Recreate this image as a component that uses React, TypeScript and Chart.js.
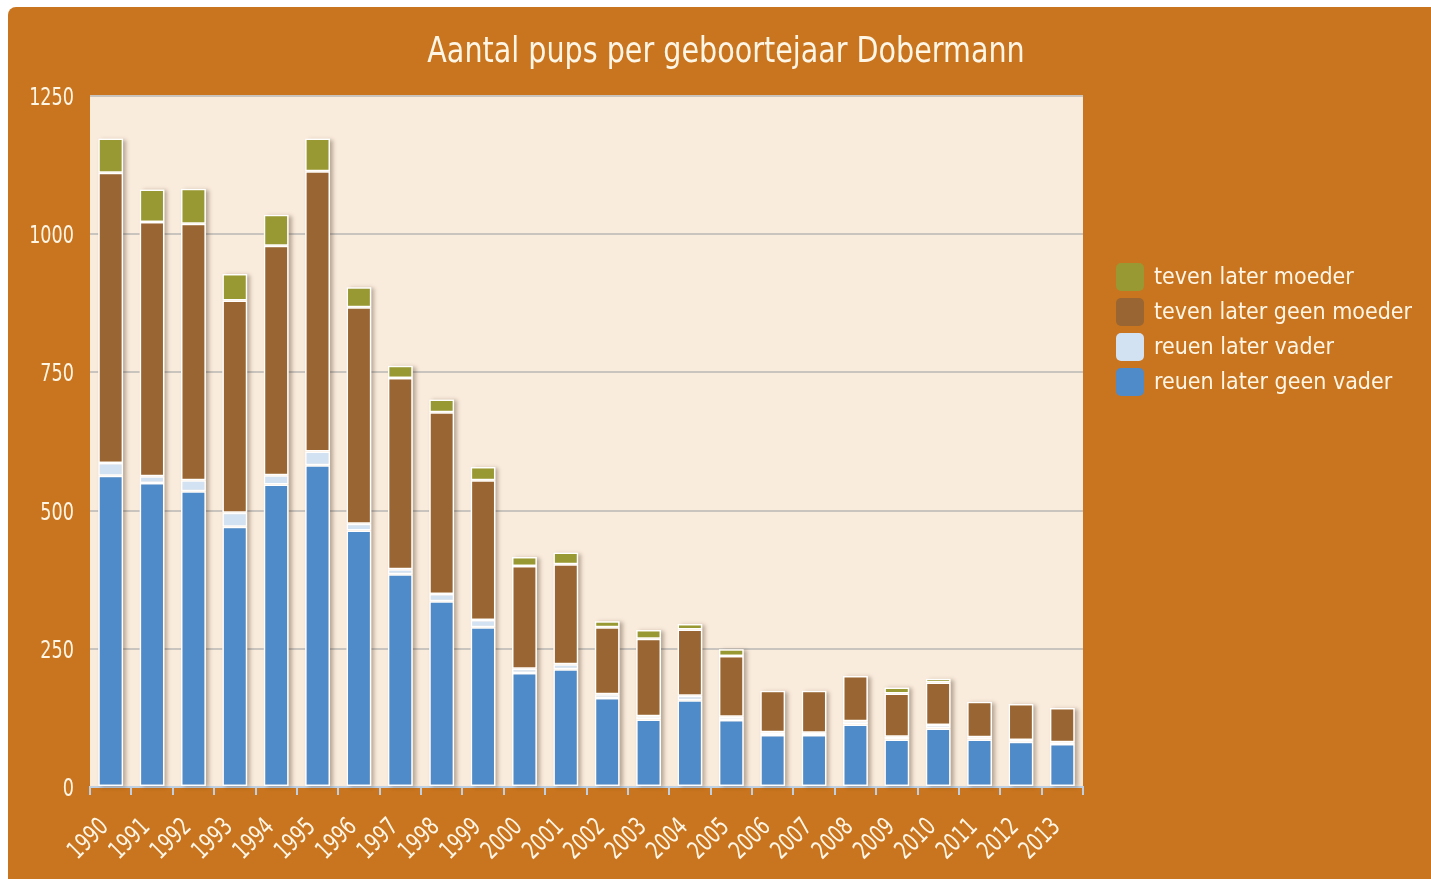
import React, { useEffect, useRef } from "react";
import { Chart, registerables } from "chart.js";

Chart.register(...registerables);

const years = ["1990","1991","1992","1993","1994","1995","1996","1997","1998","1999","2000","2001","2002","2003","2004","2005","2006","2007","2008","2009","2010","2011","2012","2013"];
const reuenGeenVader = [563,550,535,471,547,582,464,385,336,289,206,213,161,122,157,121,94,94,113,86,106,86,82,78];
const reuenVader = [23,12,20,25,17,25,12,9,13,13,8,9,7,6,8,6,5,4,6,5,6,4,3,3];
const tevenGeenMoeder = [525,460,464,384,415,507,392,346,329,253,186,181,121,140,120,110,75,76,82,78,77,64,65,62];
const tevenMoeder = [62,59,63,48,56,59,36,22,23,24,16,21,11,16,10,12,0,0,0,11,7,0,0,0];
const yTicks = [0, 250, 500, 750, 1000, 1250];
const titleText = "Aantal pups per geboortejaar Dobermann";

const FONT = "'DejaVu Sans Condensed', 'DejaVu Sans', sans-serif";
const TEXT = "#FFF6E6";
const ORANGE = "#C9741E";
const PLOT_BG = "#FAECDD";

const series = [
  { label: "reuen later geen vader", data: reuenGeenVader, color: "#4F8AC9" },
  { label: "reuen later vader", data: reuenVader, color: "#D3E2F2" },
  { label: "teven later geen moeder", data: tevenGeenMoeder, color: "#996633" },
  { label: "teven later moeder", data: tevenMoeder, color: "#999933" },
];

const bgPlugin = {
  id: "plotBg",
  beforeDraw(chart: any) {
    const { ctx, chartArea } = chart;
    ctx.save();
    ctx.fillStyle = PLOT_BG;
    ctx.fillRect(chartArea.left, chartArea.top, chartArea.right - chartArea.left, chartArea.bottom - chartArea.top);
    ctx.restore();
  },
};

const shadowPlugin = {
  id: "barShadow",
  beforeDatasetsDraw(chart: any) {
    const { ctx } = chart;
    const metas = chart.getSortedVisibleDatasetMetas();
    if (!metas.length) return;
    const n = metas[0].data.length;
    ctx.save();
    ctx.shadowColor = "rgba(60,40,20,0.35)";
    ctx.shadowOffsetX = 3;
    ctx.shadowOffsetY = 1;
    ctx.shadowBlur = 4;
    ctx.fillStyle = PLOT_BG;
    for (let i = 0; i < n; i++) {
      let top = Infinity, bottom = -Infinity, x = 0, w = 0;
      metas.forEach((m: any) => {
        const el = m.data[i];
        if (!el) return;
        const p = el.getProps(["x", "y", "base", "width"], true);
        top = Math.min(top, p.y, p.base);
        bottom = Math.max(bottom, p.y, p.base);
        x = p.x; w = p.width;
      });
      ctx.fillRect(x - w / 2, top, w, bottom - top);
    }
    ctx.restore();
  },
};

const textPlugin = {
  id: "texts",
  afterDraw(chart: any) {
    const { ctx } = chart;
    const xs = chart.scales.x;
    const ys = chart.scales.y;
    ctx.save();
    ctx.fillStyle = TEXT;

    // title
    ctx.save();
    ctx.font = `36px ${FONT}`;
    ctx.textAlign = "center";
    ctx.textBaseline = "alphabetic";
    ctx.translate(718, 54.7);
    ctx.scale(0.883, 1);
    ctx.fillText(titleText, 0, 0);
    ctx.restore();

    // y tick labels
    yTicks.forEach((v) => {
      const py = ys.getPixelForValue(v);
      ctx.save();
      ctx.font = `24.5px ${FONT}`;
      ctx.textAlign = "right";
      ctx.textBaseline = "alphabetic";
      ctx.translate(66, py + 9);
      ctx.scale(0.8, 1);
      ctx.fillText(String(v), 0, 0);
      ctx.restore();
    });

    // x tick labels
    years.forEach((lab, i) => {
      const px = xs.getPixelForTick(i);
      ctx.save();
      ctx.font = `25px ${FONT}`;
      ctx.textAlign = "right";
      ctx.textBaseline = "alphabetic";
      ctx.translate(px - 1, 821);
      ctx.rotate(-Math.PI / 4);
      ctx.scale(0.8, 1);
      ctx.fillText(lab, 0, 0);
      ctx.restore();
    });

    // legend
    const items = [...series].reverse();
    items.forEach((s, i) => {
      const cy = 270 + i * 35;
      const bx = 1108, size = 28;
      ctx.fillStyle = s.color;
      ctx.beginPath();
      (ctx as any).roundRect(bx, cy - size / 2, size, size, 5);
      ctx.fill();
      ctx.fillStyle = TEXT;
      ctx.font = `23px ${FONT}`;
      ctx.textBaseline = "middle";
      ctx.textAlign = "left";
      ctx.fillText(s.label, 1146, cy + 1);
    });
    ctx.restore();
  },
};

export default function App() {
  const ref = useRef<HTMLCanvasElement>(null);
  useEffect(() => {
    if (!ref.current) return;
    const chart = new Chart(ref.current, {
      type: "bar",
      data: {
        labels: years,
        datasets: series.map((s) => ({
          label: s.label,
          data: s.data,
          backgroundColor: s.color,
          borderColor: "#FFFFFF",
          borderWidth: 1.5,
          borderSkipped: false,
          categoryPercentage: 1,
          barPercentage: 0.6,
        })),
      },
      options: {
        animation: false,
        responsive: false,
        maintainAspectRatio: false,
        layout: { padding: { left: 0, right: 348, top: 89, bottom: 0 } },
        plugins: {
          legend: { display: false },
          tooltip: { enabled: false },
          title: { display: false },
        },
        scales: {
          x: {
            stacked: true,
            grid: { offset: true, drawOnChartArea: false, drawTicks: true, tickLength: 8, color: "#BFD0E2", lineWidth: 2 },
            border: { display: true, color: "#BFD0E2", width: 2 },
            ticks: { display: false, autoSkip: false },
            afterFit: (s: any) => { s.height = 92; },
          },
          y: {
            stacked: true,
            min: 0,
            max: 1250,
            afterBuildTicks: (s: any) => { s.ticks = yTicks.map((v) => ({ value: v })); },
            grid: { color: "#C9C4BE", lineWidth: 2, drawTicks: false },
            border: { display: false },
            ticks: { display: false },
            afterFit: (s: any) => { s.width = 82; },
          },
        },
      },
      plugins: [bgPlugin, shadowPlugin, textPlugin],
    });
    return () => chart.destroy();
  }, []);
  return (
    <div style={{ position: "absolute", left: 8, top: 7, width: 1423, height: 872, background: ORANGE, borderTopLeftRadius: 8, overflow: "hidden" }}>
      <canvas ref={ref} width={1423} height={872} style={{ display: "block", width: 1423, height: 872 }} />
    </div>
  );
}
